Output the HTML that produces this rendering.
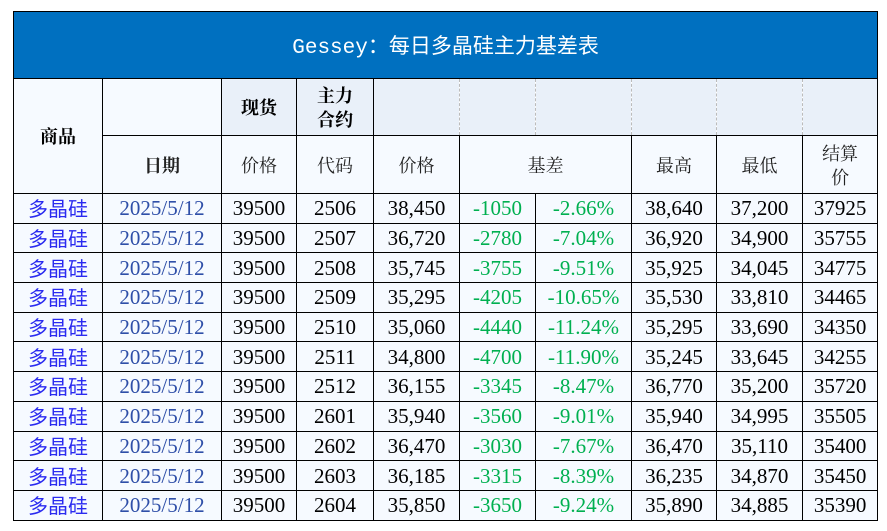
<!DOCTYPE html>
<html><head><meta charset="utf-8"><style>
body{margin:0;background:#fff;width:887px;height:531px;overflow:hidden}
table{position:absolute;left:13px;top:11px;border-collapse:collapse;table-layout:fixed;width:864px;font-family:"Liberation Serif","Noto Serif CJK SC",serif;font-size:21px;color:#000}
td{border:1.5px solid #000;text-align:center;padding:0;white-space:nowrap;overflow:hidden;background:#f6faff}
.t{background:#0070c0;color:#fff;height:66px;font-family:"Liberation Mono","Noto Sans CJK SC",monospace;font-size:21px;font-weight:normal;border-color:#000}
.h1 td{height:56px}
.h2 td{height:57px}
.lb{background:#e9f0f9}
.d{border-left:1px dashed #bbb;border-right:1px dashed #bbb}
b{font-family:"Noto Serif CJK SC",serif;font-weight:bold;font-size:18px}
.r td{height:28.7px;line-height:26px}
.p{color:#2a2af0;font-family:"Noto Sans CJK SC",sans-serif;font-size:20px}
.dt{color:#2f4fa8}
.g{color:#00b050}
.h2 td{font-family:"Noto Serif CJK SC",serif;font-size:18px;color:#222}
</style></head><body>
<table>
<colgroup><col style="width:89px"><col style="width:119px"><col style="width:75px"><col style="width:77px"><col style="width:86px"><col style="width:76px"><col style="width:96px"><col style="width:85px"><col style="width:86px"><col style="width:75px"></colgroup>
<tr><td class="t" colspan="10">Gessey：每日多晶硅主力基差表</td></tr>
<tr class="h1"><td rowspan="2"><b>商品</b></td><td></td><td class="lb"><b>现货</b></td><td class="lb" style="line-height:24px"><b>主力<br>合约</b></td><td class="lb" style="border-right:1px dashed #bbb"></td><td class="lb d"></td><td class="lb d"></td><td class="lb d"></td><td class="lb d"></td><td class="lb" style="border-left:1px dashed #bbb"></td></tr>
<tr class="h2"><td><b>日期</b></td><td>价格</td><td>代码</td><td>价格</td><td colspan="2">基差</td><td>最高</td><td>最低</td><td style="line-height:24px">结算<br>价</td></tr>
<tr class="r"><td class="p">多晶硅</td><td class="dt">2025/5/12</td><td>39500</td><td>2506</td><td>38,450</td><td class="g">-1050</td><td class="g">-2.66%</td><td>38,640</td><td>37,200</td><td>37925</td></tr>
<tr class="r"><td class="p">多晶硅</td><td class="dt">2025/5/12</td><td>39500</td><td>2507</td><td>36,720</td><td class="g">-2780</td><td class="g">-7.04%</td><td>36,920</td><td>34,900</td><td>35755</td></tr>
<tr class="r"><td class="p">多晶硅</td><td class="dt">2025/5/12</td><td>39500</td><td>2508</td><td>35,745</td><td class="g">-3755</td><td class="g">-9.51%</td><td>35,925</td><td>34,045</td><td>34775</td></tr>
<tr class="r"><td class="p">多晶硅</td><td class="dt">2025/5/12</td><td>39500</td><td>2509</td><td>35,295</td><td class="g">-4205</td><td class="g">-10.65%</td><td>35,530</td><td>33,810</td><td>34465</td></tr>
<tr class="r"><td class="p">多晶硅</td><td class="dt">2025/5/12</td><td>39500</td><td>2510</td><td>35,060</td><td class="g">-4440</td><td class="g">-11.24%</td><td>35,295</td><td>33,690</td><td>34350</td></tr>
<tr class="r"><td class="p">多晶硅</td><td class="dt">2025/5/12</td><td>39500</td><td>2511</td><td>34,800</td><td class="g">-4700</td><td class="g">-11.90%</td><td>35,245</td><td>33,645</td><td>34255</td></tr>
<tr class="r"><td class="p">多晶硅</td><td class="dt">2025/5/12</td><td>39500</td><td>2512</td><td>36,155</td><td class="g">-3345</td><td class="g">-8.47%</td><td>36,770</td><td>35,200</td><td>35720</td></tr>
<tr class="r"><td class="p">多晶硅</td><td class="dt">2025/5/12</td><td>39500</td><td>2601</td><td>35,940</td><td class="g">-3560</td><td class="g">-9.01%</td><td>35,940</td><td>34,995</td><td>35505</td></tr>
<tr class="r"><td class="p">多晶硅</td><td class="dt">2025/5/12</td><td>39500</td><td>2602</td><td>36,470</td><td class="g">-3030</td><td class="g">-7.67%</td><td>36,470</td><td>35,110</td><td>35400</td></tr>
<tr class="r"><td class="p">多晶硅</td><td class="dt">2025/5/12</td><td>39500</td><td>2603</td><td>36,185</td><td class="g">-3315</td><td class="g">-8.39%</td><td>36,235</td><td>34,870</td><td>35450</td></tr>
<tr class="r"><td class="p">多晶硅</td><td class="dt">2025/5/12</td><td>39500</td><td>2604</td><td>35,850</td><td class="g">-3650</td><td class="g">-9.24%</td><td>35,890</td><td>34,885</td><td>35390</td></tr>
</table>
</body></html>
